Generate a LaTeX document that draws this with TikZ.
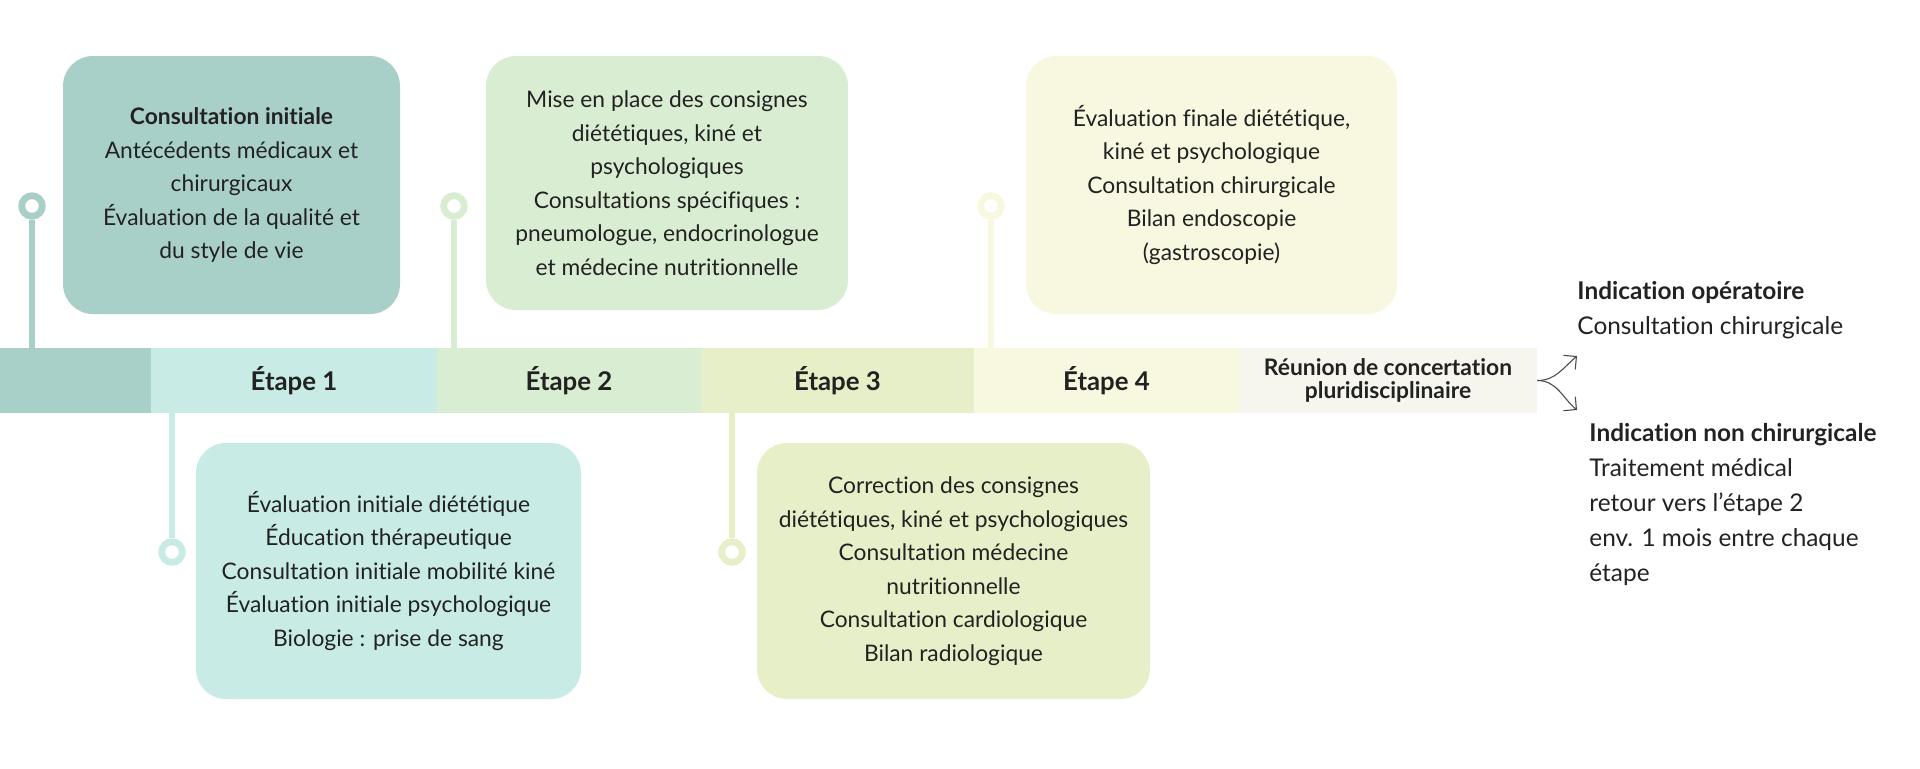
\documentclass[tikz,border=0pt]{standalone}
\usepackage{fontspec}
\setmainfont{Lato}[Ligatures=NoCommon]
\usetikzlibrary{arrows.meta}
\definecolor{cA}{HTML}{A9D0C8}
\definecolor{cB}{HTML}{C8EBE5}
\definecolor{cC}{HTML}{D9EDD3}
\definecolor{cD}{HTML}{E6EFC7}
\definecolor{cE}{HTML}{F8F7DF}
\definecolor{cF}{HTML}{F6F6EF}
\definecolor{ink}{HTML}{222222}
\begin{document}
\begin{tikzpicture}[x=0.5pt,y=-0.5pt,
  seg/.style={rectangle, inner sep=0pt, minimum height=32.5pt, font=\fontsize{12.9}{14}\selectfont\bfseries, text=ink},
  card/.style={rectangle, rounded corners=15pt, inner sep=0pt, align=center, text=ink, font=\fontsize{11.4}{16.75}\selectfont},
  pin/.style={circle, draw=#1, fill=white, line width=3.4pt, minimum size=10.3pt, inner sep=0pt},
  stem/.style={draw=#1, line width=3pt},
  side/.style={anchor=north west, align=left, inner sep=0pt, text=ink, font=\fontsize{12.2}{17.5}\selectfont},
  branch/.style={draw=black!70, line width=0.55pt, -{Straight Barb[angle=90:6.5pt]}}
]
\useasboundingbox (0,0) rectangle (1920,768);

% timeline bar
\node[seg, fill=cA, minimum width=75.5pt] (s0) at (75.5,380.5) {};
\node[seg, fill=cB, minimum width=143pt] (s1) at (294,380.5) {Étape 1};
\node[seg, fill=cC, minimum width=132pt] (s2) at (569,380.5) {Étape 2};
\node[seg, fill=cD, minimum width=136.5pt] (s3) at (837.5,380.5) {Étape 3};
\node[seg, fill=cE, minimum width=132.5pt] (s4) at (1106.5,380.5) {Étape 4};
\node[seg, fill=cF, minimum width=149pt, align=center, font=\fontsize{11.4}{11.5}\selectfont\bfseries] (s5) at (1388,380.5) {Réunion de concertation\\pluridisciplinaire};

% cards
\node[card, fill=cA, minimum width=168.5pt, minimum height=129pt] (bA) at (231.5,185)
  {\textbf{Consultation initiale}\\Antécédents médicaux et\\chirurgicaux\\Évaluation de la qualité et\\du style de vie};
\node[card, fill=cC, minimum width=181pt, minimum height=127pt] (bB) at (667,183)
  {Mise en place des consignes\\diététiques, kiné et\\psychologiques\\Consultations spécifiques :\\pneumologue, endocrinologue\\et médecine nutritionnelle};
\node[card, fill=cE, minimum width=185.5pt, minimum height=129pt] (bC) at (1211.5,185)
  {Évaluation finale diététique,\\kiné et psychologique\\Consultation chirurgicale\\Bilan endoscopie\\(gastroscopie)};
\node[card, fill=cB, minimum width=192.5pt, minimum height=128pt] (bD) at (388.5,571)
  {Évaluation initiale diététique\\Éducation thérapeutique\\Consultation initiale mobilité kiné\\Évaluation initiale psychologique\\Biologie : prise de sang};
\node[card, fill=cD, minimum width=196.5pt, minimum height=128pt] (bE) at (953.5,571)
  {Correction des consignes\\diététiques, kiné et psychologiques\\Consultation médecine\\nutritionnelle\\Consultation cardiologique\\Bilan radiologique};

% pins and stems
\node[pin=cA] (pA) at (32,206) {};
\node[pin=cC] (pB) at (454,206) {};
\node[pin=cE] (pC) at (991,206) {};
\node[pin=cB] (pD) at (172,552) {};
\node[pin=cD] (pE) at (732,552) {};
\draw[stem=cA] (pA.south) -- (pA |- s0.north);
\draw[stem=cC] (pB.south) -- (pB |- s2.north);
\draw[stem=cE] (pC.south) -- (pC |- s4.north);
\draw[stem=cB] (pD.north) -- (pD |- s1.south);
\draw[stem=cD] (pE.north) -- (pE |- s3.south);

% outcomes
\coordinate (up) at (1577,356);
\coordinate (dn) at (1577,410);
\draw[branch] (s5.east) to[out=0,in=220] (up);
\draw[branch] (s5.east) to[out=0,in=140] (dn);
\node[side] (oA) at (1577,281) {\textbf{Indication opératoire}\\Consultation chirurgicale};
\node[side] (oB) at (1589,423) {\textbf{Indication non chirurgicale}\\Traitement médical\\retour vers l’étape 2\\env. 1 mois entre chaque\\étape};
\end{tikzpicture}
\end{document}
